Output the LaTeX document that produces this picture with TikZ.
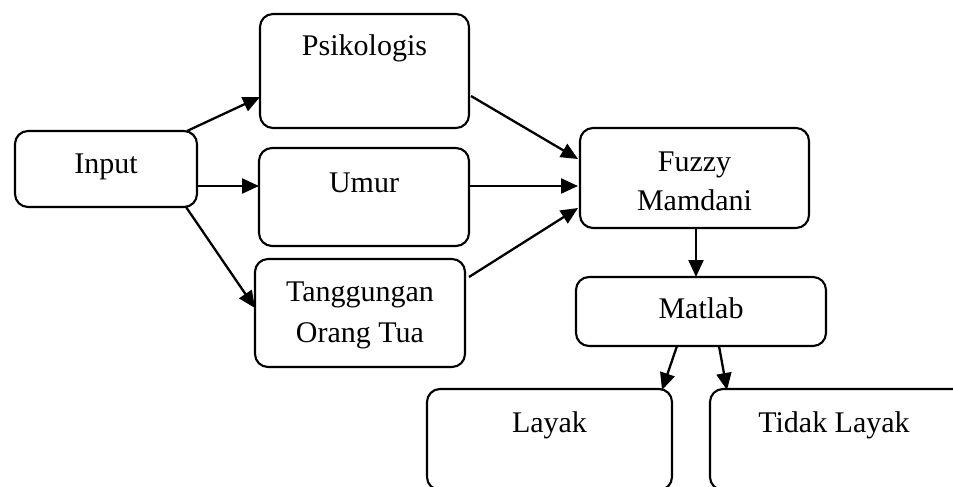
\documentclass[tikz,border=0pt]{standalone}
\usepackage{fontspec}
\setmainfont{Liberation Serif}
\usetikzlibrary{calc,arrows.meta}
\tikzset{
  box/.style={draw=black, line width=2.1pt, rounded corners=13pt, inner sep=0pt, outer sep=0pt, anchor=north west},
  txt/.style={inner sep=0pt, anchor=base, font=\fontsize{30}{36}\selectfont},
  conn/.style={line width=2.3pt, -{Triangle[length=17pt,width=15pt]}}
}
\begin{document}
\begin{tikzpicture}[x=1pt,y=-1pt]
\clip (0,0) rectangle (953,487);
\fill[white] (0,0) rectangle (953,487);
% boxes
\node[box, minimum width=182pt, minimum height=76pt] (input) at (15,131) {};
\node[box, minimum width=209pt, minimum height=114pt] (psik) at (260,14) {};
\node[box, minimum width=210pt, minimum height=98pt] (umur) at (259,148) {};
\node[box, minimum width=210pt, minimum height=108pt] (tang) at (255,259) {};
\node[box, minimum width=229pt, minimum height=100pt] (fuzzy) at (580,128) {};
\node[box, minimum width=250pt, minimum height=69pt] (matlab) at (576,277) {};
\node[box, minimum width=245pt, minimum height=101pt] (layak) at (427,389) {};
\node[box, minimum width=262pt, minimum height=101pt] (tidak) at (710,389) {};
% texts
\node[txt] (tinput) at ($(input.north)+(0,42)$) {Input};
\node[txt] (tpsik) at ($(psik.north)+(0,42)$) {Psikologis};
\node[txt] (tumur) at ($(umur.north)+(0,44)$) {Umur};
\node[txt] (ttang1) at ($(tang.north)+(0,42)$) {Tanggungan};
\node[txt] (ttang2) at ($(tang.north)+(0,83)$) {Orang Tua};
\node[txt] (tfuzzy1) at ($(fuzzy.north)+(0,43)$) {Fuzzy};
\node[txt] (tfuzzy2) at ($(fuzzy.north)+(0,82)$) {Mamdani};
\node[txt] (tmatlab) at ($(matlab.north)+(0,41)$) {Matlab};
\node[txt] (tlayak) at ($(layak.north)+(0,43)$) {Layak};
\node[txt] (ttidak) at ($(tidak.north west)+(124,43)$) {Tidak Layak};
% connectors
\draw[conn] ($(input.north east)+(-10,0)$) -- ($(psik.north west)+(0,83)$);
\draw[conn] ($(input.south east)+(0,-21)$) -- ($(umur.north west)+(0,38)$);
\draw[conn] ($(input.south east)+(-11,0)$) -- ($(tang.north west)+(0,49)$);
\draw[conn] ($(psik.north east)+(2,82)$) -- ($(fuzzy.north west)+(-2,31)$);
\draw[conn] ($(umur.north east)+(0,38)$) -- ($(fuzzy.north west)+(-2,58)$);
\draw[conn] ($(tang.north east)+(4,18)$) -- ($(fuzzy.north west)+(-2,80)$);
\draw[conn] ($(fuzzy.south west)+(116,0)$) -- ($(matlab.north west)+(120,0)$);
\draw[conn] ($(matlab.south west)+(101,0)$) -- ($(layak.north east)+(-10,1)$);
\draw[conn] ($(matlab.south west)+(143,0)$) -- ($(tidak.north west)+(17,1)$);
\end{tikzpicture}
\end{document}
